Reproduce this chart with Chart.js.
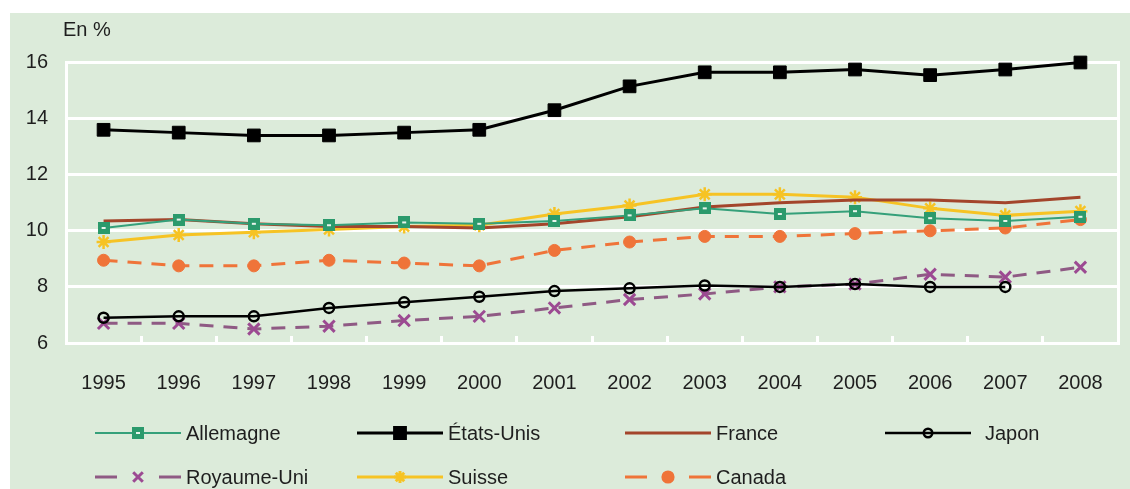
<!DOCTYPE html>
<html>
<head>
<meta charset="utf-8">
<script src="https://cdn.jsdelivr.net/npm/chart.js@4/dist/chart.umd.min.js"></script>
<style>
    html, body { margin: 0; padding: 0; background: #ffffff; }
    #chart { display: block; }
</style>
</head>
<body>
<canvas id="chart" width="1130" height="489"></canvas>
<script>
const years = ['1995', '1996', '1997', '1998', '1999', '2000', '2001', '2002', '2003', '2004', '2005', '2006', '2007', '2008'];

const allemagne = [10.1, 10.4, 10.25, 10.2, 10.3, 10.25, 10.35, 10.55, 10.8, 10.6, 10.7, 10.45, 10.35, 10.5];
const etatsUnis = [13.6, 13.5, 13.4, 13.4, 13.5, 13.6, 14.3, 15.15, 15.65, 15.65, 15.75, 15.55, 15.75, 16.0];
const france = [10.35, 10.4, 10.25, 10.15, 10.15, 10.1, 10.25, 10.5, 10.85, 11.0, 11.1, 11.1, 11.0, 11.2];
const japon = [6.9, 6.95, 6.95, 7.25, 7.45, 7.65, 7.85, 7.95, 8.05, 8.0, 8.1, 8.0, 8.0, null];
const royaumeUni = [6.7, 6.7, 6.5, 6.6, 6.8, 6.95, 7.25, 7.55, 7.75, 8.0, 8.1, 8.45, 8.35, 8.7];
const suisse = [9.6, 9.85, 9.95, 10.05, 10.15, 10.2, 10.6, 10.9, 11.3, 11.3, 11.2, 10.8, 10.55, 10.7];
const canada = [8.95, 8.75, 8.75, 8.95, 8.85, 8.75, 9.3, 9.6, 9.8, 9.8, 9.9, 10.0, 10.1, 10.4];

const yTicks = [6, 8, 10, 12, 14, 16];

const FONT = '"Liberation Sans", Arial, sans-serif';
const TEXT = '#1e1e1e';
const PANEL = '#dcebda';

// small green square with a white dash, like the german marker
function makeGermanMarker() {
    const c = document.createElement('canvas');
    c.width = 12;
    c.height = 12;
    const g = c.getContext('2d');
    g.fillStyle = '#2b9a6c';
    g.fillRect(0, 0, 12, 12);
    g.fillStyle = '#e8f4ec';
    g.fillRect(4, 5, 4, 2);
    return c;
}

const germanMarker = makeGermanMarker();

const panelPlugin = {
    id: 'panel',
    beforeDraw(chart) {
        const ctx = chart.ctx;
        ctx.save();
        ctx.fillStyle = PANEL;
        ctx.fillRect(10, 13, chart.width - 10, chart.height - 13);
        ctx.fillStyle = TEXT;
        ctx.font = '20px ' + FONT;
        ctx.textBaseline = 'middle';
        ctx.textAlign = 'left';
        ctx.fillText('En %', chart.chartArea.left - 3, 30);
        ctx.restore();
    }
};

// legend drawn below the axis: line sample + marker + name
const legendCols = [95, 357, 625, 885];
const legendRows = [433, 477];

const legendPlugin = {
    id: 'bottomLegend',
    afterDraw(chart) {
        const ctx = chart.ctx;
        chart.data.datasets.forEach((ds, i) => {
            const x0 = legendCols[i % 4];
            const y = legendRows[Math.floor(i / 4)];
            const x1 = x0 + 86;
            ctx.save();
            ctx.strokeStyle = ds.borderColor;
            ctx.lineWidth = ds.borderWidth;
            ctx.setLineDash(ds.borderDash ? [22, 42] : []);
            ctx.beginPath();
            ctx.moveTo(x0, y);
            ctx.lineTo(x1, y);
            ctx.stroke();
            ctx.setLineDash([]);
            if (ds.pointRadius > 0) {
                ctx.fillStyle = ds.pointBackgroundColor;
                ctx.strokeStyle = ds.pointBorderColor;
                Chart.helpers.drawPoint(ctx, {
                    pointStyle: ds.pointStyle,
                    rotation: 0,
                    radius: ds.pointRadius * 0.85,
                    borderWidth: ds.pointBorderWidth
                }, (x0 + x1) / 2, y);
            }
            ctx.fillStyle = TEXT;
            ctx.font = '20px ' + FONT;
            ctx.textBaseline = 'middle';
            ctx.textAlign = 'left';
            ctx.fillText(ds.label, x1 + (i === 3 ? 14 : 5), y + 1);
            ctx.restore();
        });
    }
};

function initChart() {
    const ctx = document.getElementById('chart').getContext('2d');
    return new Chart(ctx, {
        type: 'line',
        data: {
            labels: years,
            datasets: [{
                label: 'Allemagne',
                data: allemagne,
                borderColor: '#35a07a',
                borderWidth: 2,
                pointStyle: germanMarker,
                pointRadius: 6,
                pointBackgroundColor: '#2b9a6c',
                pointBorderColor: '#2b9a6c',
                pointBorderWidth: 1
            }, {
                label: 'États-Unis',
                data: etatsUnis,
                borderColor: '#000000',
                borderWidth: 3,
                pointStyle: 'rect',
                pointRadius: 9,
                pointBackgroundColor: '#000000',
                pointBorderColor: '#000000',
                pointBorderWidth: 1
            }, {
                label: 'France',
                data: france,
                borderColor: '#a3452b',
                borderWidth: 3,
                pointRadius: 0
            }, {
                label: 'Japon',
                data: japon,
                borderColor: '#000000',
                borderWidth: 2.5,
                pointStyle: 'circle',
                pointRadius: 5,
                pointBackgroundColor: 'rgba(0,0,0,0)',
                pointBorderColor: '#000000',
                pointBorderWidth: 2.5
            }, {
                label: 'Royaume-Uni',
                data: royaumeUni,
                borderColor: '#8f5a84',
                borderWidth: 3,
                borderDash: [14, 10],
                pointStyle: 'crossRot',
                pointRadius: 8,
                pointBackgroundColor: '#9c4a92',
                pointBorderColor: '#9c4a92',
                pointBorderWidth: 3
            }, {
                label: 'Suisse',
                data: suisse,
                borderColor: '#f6c324',
                borderWidth: 3,
                pointStyle: 'star',
                pointRadius: 7,
                pointBackgroundColor: '#f6c324',
                pointBorderColor: '#f6c324',
                pointBorderWidth: 2.5
            }, {
                label: 'Canada',
                data: canada,
                borderColor: '#ef7439',
                borderWidth: 3,
                borderDash: [14, 10],
                pointStyle: 'circle',
                pointRadius: 6,
                pointBackgroundColor: '#ef7439',
                pointBorderColor: '#ef7439',
                pointBorderWidth: 1
            }]
        },
        options: {
            responsive: false,
            animation: false,
            devicePixelRatio: 1,
            spanGaps: false,
            clip: false,
            layout: { padding: { top: 62.5, left: 10, right: 12, bottom: 86 } },
            plugins: {
                legend: { display: false },
                tooltip: { enabled: false }
            },
            scales: {
                x: {
                    offset: true,
                    afterFit: s => {
                        s.height = 60;
                        s.paddingLeft = 0;
                        s.paddingRight = 0;
                    },
                    grid: {
                        offset: true,
                        drawOnChartArea: false,
                        tickLength: -7,
                        tickColor: '#ffffff',
                        tickWidth: 3
                    },
                    border: { color: '#ffffff', width: 3 },
                    ticks: {
                        padding: 35.5,
                        color: TEXT,
                        font: { family: FONT, size: 20 }
                    }
                },
                y: {
                    min: 6,
                    max: 16,
                    afterFit: s => { s.width = 56; },
                    afterBuildTicks: s => { s.ticks = yTicks.map(v => ({ value: v })); },
                    grid: { color: '#ffffff', lineWidth: 3, drawTicks: false },
                    border: { color: '#ffffff', width: 3 },
                    ticks: {
                        padding: 18,
                        color: TEXT,
                        font: { family: FONT, size: 20 }
                    }
                },
                yRight: {
                    position: 'right',
                    min: 6,
                    max: 16,
                    afterFit: s => { s.width = 0; },
                    grid: { display: false, drawTicks: false },
                    border: { color: '#ffffff', width: 3 },
                    ticks: { display: false }
                }
            }
        },
        plugins: [panelPlugin, legendPlugin]
    });
}

initChart();
</script>
</body>
</html>
